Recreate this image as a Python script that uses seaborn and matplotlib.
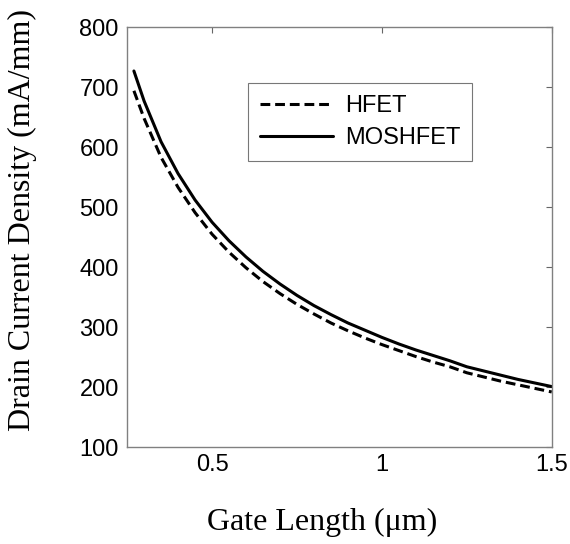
import matplotlib
matplotlib.use("Agg")
import matplotlib.pyplot as plt
import seaborn as sns
import pandas as pd

gate_length = [0.27, 0.30, 0.35, 0.40, 0.45, 0.50, 0.55, 0.60, 0.65, 0.70, 0.75, 0.80, 0.85,
               0.90, 0.95, 1.00, 1.05, 1.10, 1.15, 1.20, 1.25, 1.30, 1.35, 1.40, 1.45, 1.50]
moshfet = [727, 677, 609, 556, 512, 475, 444, 417, 393, 372, 353, 336, 321,
           307, 295, 283, 272, 262, 253, 244, 234, 227, 220, 213, 207, 201]
hfet = [694, 648, 583, 533, 491, 455, 425, 399, 376, 356, 338, 322, 307,
        294, 282, 271, 261, 251, 242, 234, 224, 217, 210, 204, 198, 192]
series_names = ["HFET", "MOSHFET"]
x_ticks = [0.5, 1, 1.5]
x_tick_labels = ["0.5", "1", "1.5"]
y_ticks = [100, 200, 300, 400, 500, 600, 700, 800]

df = pd.concat([
    pd.DataFrame({"L": gate_length, "I": hfet, "dev": series_names[0]}),
    pd.DataFrame({"L": gate_length, "I": moshfet, "dev": series_names[1]}),
])

sns.set_style("white")
plt.rcParams['font.family'] = ['Liberation Sans', 'DejaVu Sans']
plt.rcParams['text.color'] = 'black'

fig = plt.figure(figsize=(5.7, 5.44), dpi=100)
ax = fig.add_axes([0.223, 0.178, 0.745, 0.772])

sns.lineplot(data=df, x="L", y="I", hue="dev", style="dev",
             palette={"HFET": "black", "MOSHFET": "black"},
             dashes={"HFET": (3.2, 1.6), "MOSHFET": ""},
             linewidth=2.2, ax=ax, legend=True)

ax.set_xlim(0.25, 1.5)
ax.set_ylim(100, 800)
ax.set_xticks(x_ticks)
ax.set_xticklabels(x_tick_labels)
ax.set_yticks(y_ticks)
ax.tick_params(direction="in", length=4, width=0.8, color="#666666",
               labelcolor="black", top=True, right=True, labelsize=17)
ax.tick_params(axis="x", pad=5)
ax.tick_params(axis="y", pad=6)
for s in ax.spines.values():
    s.set_color("#808080")
    s.set_linewidth(1.0)

ax.set_xlabel("Gate Length (\u03bcm)", family=["Liberation Serif"], fontsize=23, color="black")
ax.set_ylabel("Drain Current Density (mA/mm)", family=["Liberation Serif"], fontsize=23, color="black")
ax.xaxis.set_label_coords(0.46, -0.145)
ax.yaxis.set_label_coords(-0.212, 0.54)

leg = ax.legend(loc="upper left", bbox_to_anchor=(0.285, 0.867), fontsize=17,
                frameon=True, fancybox=False, handlelength=3.1, borderpad=0.5,
                labelspacing=0.45, handletextpad=0.5, borderaxespad=0)
leg.get_frame().set_edgecolor("#555555")
leg.get_frame().set_linewidth(0.8)
for t in leg.get_texts():
    t.set_color("black")

fig.savefig("out.png", dpi=100)
